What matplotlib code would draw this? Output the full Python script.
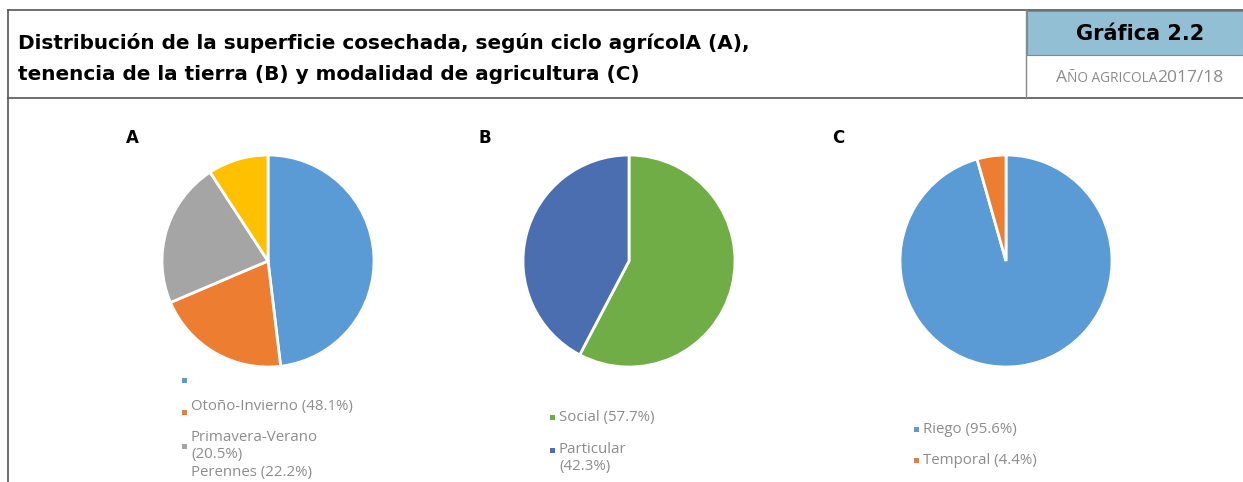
import matplotlib
matplotlib.use("Agg")
import matplotlib.pyplot as plt
from matplotlib.lines import Line2D
from matplotlib.patches import Rectangle
from matplotlib.offsetbox import TextArea, HPacker, AnnotationBbox

W, H = 1243, 482

# ---- data ----
labels_a = ["", "Otoño-Invierno (48.1%)", "Primavera-Verano\n(20.5%)", "Perennes (22.2%)"]
values_a = [48.1, 20.5, 22.2, 9.2]
colors_a = ["#5B9BD5", "#ED7D31", "#A5A5A5", "#FFC000"]

labels_b = ["Social (57.7%)", "Particular\n(42.3%)"]
values_b = [57.7, 42.3]
colors_b = ["#70AD47", "#4A6EB0"]

labels_c = ["Riego (95.6%)", "Temporal (4.4%)"]
values_c = [95.6, 4.4]
colors_c = ["#5B9BD5", "#ED7D31"]

title_lines = ["Distribución de la superficie cosechada, según ciclo agrícolA (A),",
               "tenencia de la tierra (B) y modalidad de agricultura (C)"]

fig = plt.figure(figsize=(W / 100, H / 100), dpi=100)
fig.patch.set_facecolor("white")

def fx(x):
    return x / W

def fy(y):
    return 1 - y / H

# ---- frame lines ----
line_kw = dict(color="#555555", lw=1.2, transform=fig.transFigure)
fig.add_artist(Line2D([fx(8), fx(1243)], [fy(10), fy(10)], **line_kw))
fig.add_artist(Line2D([fx(8), fx(1243)], [fy(98), fy(98)], **line_kw))
fig.add_artist(Line2D([fx(8), fx(8)], [fy(10), fy(482)], **line_kw))
fig.add_artist(Line2D([fx(1026), fx(1026)], [fy(10), fy(98)], color="#888888", lw=1.0,
                      transform=fig.transFigure))
fig.add_artist(Rectangle((fx(1027), fy(55)), fx(1243) - fx(1027), fy(11) - fy(55),
                         facecolor="#93BFD5", edgecolor="#6f8fa0", lw=0.8,
                         transform=fig.transFigure))

fig.text(fx(18), fy(43), title_lines[0], fontsize=14.4, fontweight="bold",
         family="DejaVu Sans", va="center", ha="left", color="black")
fig.text(fx(18), fy(75), title_lines[1], fontsize=14.4, fontweight="bold",
         family="DejaVu Sans", va="center", ha="left", color="black")
fig.text(fx(1140), fy(34), "Gráfica 2.2", fontsize=15, fontweight="bold",
         family="DejaVu Sans", va="center", ha="center", color="black")

# small caps subtitle
sub_col = "#8a8a8a"
parts = [TextArea("A", textprops=dict(fontsize=12.5, color=sub_col, family="Open Sans")),
         TextArea("ÑO AGRICOLA", textprops=dict(fontsize=9.8, color=sub_col, family="Open Sans")),
         TextArea("2017/18", textprops=dict(fontsize=12.5, color=sub_col, family="Open Sans"))]
pack = HPacker(children=parts, align="baseline", pad=0, sep=0)
ab = AnnotationBbox(pack, (fx(1140), fy(78)), xycoords="figure fraction", frameon=False,
                    box_alignment=(0.5, 0.5))
fig.add_artist(ab)

# ---- pies ----
R = 106
def pie_axes(cx, cy):
    ax = fig.add_axes([fx(cx - R), fy(cy + R), 2 * R / W, 2 * R / H])
    ax.axis("off")
    return ax

for cx, vals, cols in [(268, values_a, colors_a), (629, values_b, colors_b), (1006, values_c, colors_c)]:
    ax = pie_axes(cx, 261)
    wedges, _ = ax.pie(vals, colors=cols, startangle=90, counterclock=False, radius=1.0,
                       wedgeprops=dict(edgecolor="white", linewidth=2), frame=False)
    for w in wedges:
        w.set_clip_on(False)
    ax.set_xlim(-1.0, 1.0)
    ax.set_ylim(-1.0, 1.0)

for lbl, x in [("A", 132), ("B", 485), ("C", 838)]:
    fig.text(fx(x), fy(138), lbl, fontsize=12, fontweight="bold", family="DejaVu Sans",
             ha="center", va="center")

# ---- legends ----
txt_col = "#8c8c8c"
LFS = 10.8
def legend_entry(mx, my, tx, ty, text, color):
    fig.add_artist(Rectangle((fx(mx - 2.5), fy(my + 2.5)), 5 / W, 5 / H,
                             facecolor=color, edgecolor="none", transform=fig.transFigure))
    if text:
        fig.text(fx(tx), fy(ty), text, fontsize=LFS, color=txt_col, family="Open Sans",
                 ha="left", va="top", linespacing=1.2)

legend_entry(184, 380, 191, 372, labels_a[0], colors_a[0])
legend_entry(184, 412, 191, 399, labels_a[1], colors_a[1])
legend_entry(184, 446, 191, 430, labels_a[2], colors_a[2])
fig.text(fx(191), fy(465), labels_a[3], fontsize=LFS, color=txt_col, family="Open Sans",
         ha="left", va="top")

legend_entry(552, 417, 559, 410, labels_b[0], colors_b[0])
legend_entry(552, 450, 559, 442, labels_b[1], colors_b[1])

legend_entry(916, 429, 923, 422, labels_c[0], colors_c[0])
legend_entry(916, 460, 923, 453, labels_c[1], colors_c[1])

fig.savefig("out.png", dpi=100, facecolor="white")
